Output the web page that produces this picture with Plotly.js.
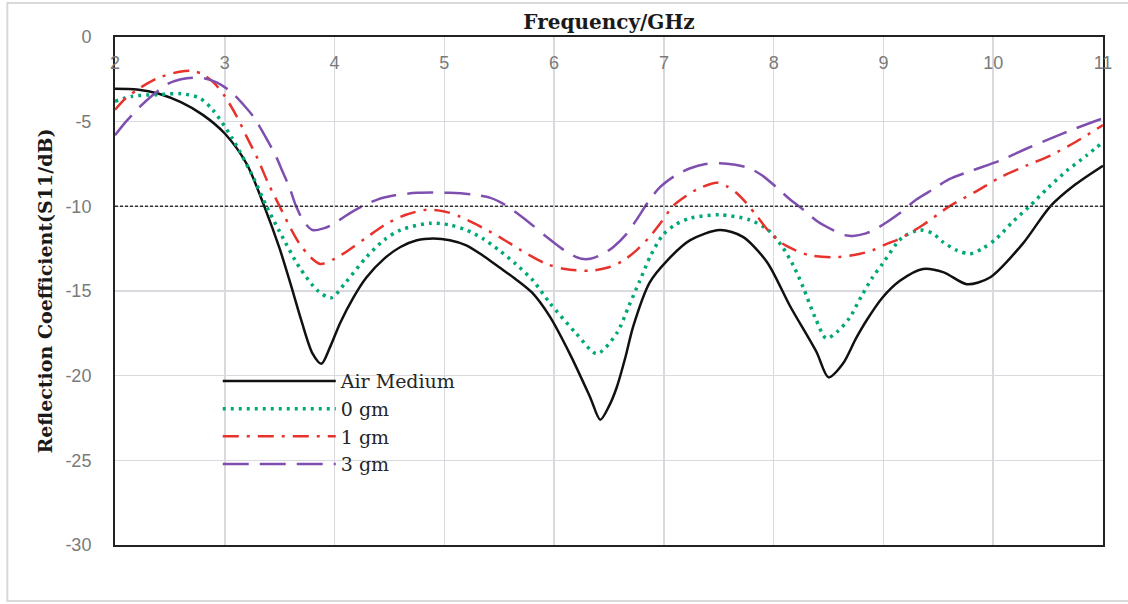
<!DOCTYPE html>
<html>
<head>
<meta charset="utf-8">
<script src="https://cdn.plot.ly/plotly-3.0.1.min.js"></script>
<style>html,body{margin:0;padding:0;background:#fff;}#chart{width:1128px;height:604px;}</style>
</head>
<body>
<div id="chart"></div>
<script>
// Series names
const seriesNames = ["Air Medium", "0 gm", "1 gm", "3 gm"];

// Air Medium
const airFreq = [2.0,2.2,2.4,2.6,2.8,3.0,3.2,3.36,3.5,3.6,3.7,3.8,3.88,3.96,4.05,4.17,4.29,4.45,4.6,4.75,4.9,5.05,5.2,5.35,5.5,5.65,5.8,5.96,6.15,6.33,6.42,6.5,6.57,6.65,6.72,6.87,7.03,7.24,7.51,7.72,7.94,8.15,8.39,8.5,8.63,8.75,8.85,8.99,9.15,9.36,9.55,9.76,9.97,10.27,10.52,10.75,11.0];
const airS11  = [-3.05,-3.1,-3.35,-3.85,-4.6,-5.7,-7.5,-10.0,-12.5,-14.6,-16.8,-18.7,-19.3,-18.3,-16.9,-15.4,-14.2,-13.1,-12.4,-12.0,-11.9,-12.0,-12.3,-12.9,-13.6,-14.3,-15.1,-16.5,-18.8,-21.3,-22.6,-21.8,-20.7,-18.9,-17.1,-14.5,-13.2,-12.0,-11.4,-11.8,-13.3,-15.9,-18.6,-20.1,-19.3,-17.8,-16.7,-15.4,-14.4,-13.7,-13.9,-14.6,-14.2,-12.2,-10.0,-8.7,-7.6];

// 0 gm
const g0Freq = [2.0,2.16,2.4,2.6,2.77,2.89,3.07,3.26,3.38,3.5,3.68,3.85,3.97,4.1,4.29,4.45,4.6,4.87,5.05,5.2,5.35,5.5,5.65,5.81,5.96,6.2,6.39,6.57,6.68,6.78,6.88,6.99,7.1,7.24,7.51,7.78,7.95,8.08,8.18,8.27,8.38,8.48,8.58,8.69,8.8,8.9,8.99,9.12,9.18,9.33,9.45,9.54,9.67,9.79,9.9,10.03,10.18,10.33,10.5,10.67,10.85,11.0];
const g0S11  = [-3.8,-3.5,-3.4,-3.35,-3.6,-4.3,-6.0,-8.3,-10.0,-11.5,-13.6,-15.0,-15.4,-14.5,-13.0,-12.0,-11.4,-11.0,-11.1,-11.4,-11.9,-12.6,-13.4,-14.4,-15.7,-17.5,-18.7,-17.5,-15.9,-14.4,-12.9,-11.7,-11.1,-10.7,-10.5,-10.8,-11.4,-12.4,-13.5,-14.8,-16.6,-17.8,-17.4,-16.6,-15.3,-14.2,-13.4,-12.2,-11.8,-11.4,-11.6,-12.1,-12.6,-12.8,-12.5,-11.9,-10.9,-10.0,-8.9,-7.9,-7.0,-6.2];

// 1 gm
const g1Freq = [2.0,2.1,2.23,2.4,2.59,2.7,2.8,2.9,3.0,3.11,3.2,3.3,3.4,3.5,3.6,3.68,3.78,3.87,4.0,4.17,4.3,4.48,4.65,4.84,5.0,5.14,5.3,5.5,5.7,5.93,6.1,6.33,6.5,6.63,6.75,6.87,6.98,7.08,7.2,7.3,7.48,7.57,7.66,7.75,7.85,7.96,8.08,8.2,8.33,8.58,8.79,8.9,9.0,9.15,9.36,9.6,9.85,10.06,10.3,10.52,10.75,11.0];
const g1S11  = [-4.3,-3.6,-3.0,-2.4,-2.05,-2.0,-2.2,-2.7,-3.5,-4.7,-5.9,-7.2,-8.7,-10.0,-11.3,-12.2,-13.0,-13.4,-13.1,-12.4,-11.8,-11.0,-10.5,-10.2,-10.3,-10.6,-11.1,-11.8,-12.6,-13.4,-13.7,-13.8,-13.6,-13.2,-12.6,-11.8,-10.9,-10.0,-9.4,-9.0,-8.6,-8.8,-9.2,-9.8,-10.6,-11.5,-12.2,-12.6,-12.9,-13.0,-12.8,-12.6,-12.3,-11.9,-11.1,-10.0,-9.1,-8.3,-7.6,-7.0,-6.2,-5.2];

// 3 gm
const g3Freq = [2.0,2.1,2.23,2.35,2.47,2.6,2.71,2.82,2.93,3.05,3.17,3.26,3.38,3.47,3.53,3.59,3.65,3.72,3.8,3.9,4.0,4.14,4.25,4.39,4.55,4.75,5.05,5.25,5.42,5.55,5.66,5.8,5.93,6.05,6.14,6.25,6.33,6.45,6.54,6.65,6.75,6.85,6.96,7.1,7.24,7.38,7.51,7.65,7.78,7.9,8.03,8.15,8.27,8.4,8.54,8.65,8.72,8.84,8.94,9.04,9.15,9.3,9.45,9.6,9.8,10.06,10.3,10.52,10.75,11.0];
const g3S11  = [-5.8,-5.0,-4.1,-3.4,-2.8,-2.5,-2.4,-2.45,-2.7,-3.2,-4.0,-4.7,-6.0,-7.1,-8.0,-8.9,-10.0,-10.9,-11.4,-11.3,-11.0,-10.4,-10.0,-9.6,-9.35,-9.2,-9.2,-9.3,-9.5,-9.9,-10.4,-11.1,-11.8,-12.4,-12.8,-13.1,-13.1,-12.8,-12.4,-11.7,-10.8,-9.8,-8.9,-8.2,-7.75,-7.5,-7.45,-7.55,-7.75,-8.2,-8.9,-9.6,-10.2,-10.9,-11.4,-11.7,-11.75,-11.6,-11.3,-10.9,-10.4,-9.6,-9.0,-8.4,-7.9,-7.3,-6.6,-6.0,-5.4,-4.8];

// Reference level and axis ticks
const thresholdDb = -10;
const xTicks = [2,3,4,5,6,7,8,9,10,11];
const yTicks = [0,-5,-10,-15,-20,-25,-30];

const traces = [
  {x: airFreq, y: airS11, name: seriesNames[0], mode: "lines",
   line: {color: "#111111", width: 2.5, shape: "spline", smoothing: 0.8}},
  {x: g0Freq, y: g0S11, name: seriesNames[1], mode: "lines",
   line: {color: "#00A878", width: 3.5, dash: "3px,5px", shape: "spline", smoothing: 0.8}},
  {x: g1Freq, y: g1S11, name: seriesNames[2], mode: "lines",
   line: {color: "#E8322C", width: 2.5, dash: "16px,8px,3px,8px", shape: "spline", smoothing: 0.8}},
  {x: g3Freq, y: g3S11, name: seriesNames[3], mode: "lines",
   line: {color: "#7F4FB0", width: 2.5, dash: "26px,11px", shape: "spline", smoothing: 0.8}}
];

const tickFont = {family: "Liberation Sans, Arial, sans-serif", size: 18, color: "#7a7a7a"};
const xTitleFont = {family: "DejaVu Serif, serif", size: 20, color: "#1a1a1a", weight: "bold"};
const yTitleFont = {family: "DejaVu Serif, serif", size: 19, color: "#1a1a1a", weight: "bold"};

const layout = {
  width: 1128, height: 604,
  margin: {l: 115, r: 25, t: 37, b: 59},
  paper_bgcolor: "#ffffff", plot_bgcolor: "#ffffff",
  showlegend: true,
  xaxis: {
    range: [2, 11], side: "top", tickmode: "array", tickvals: xTicks, ticktext: xTicks.map(String),
    ticks: "", ticklabelstandoff: -41, tickfont: tickFont,
    showgrid: true, gridcolor: "#d9d9df", gridwidth: 1.5, zeroline: false,
    showline: true, mirror: true, linecolor: "#222222", linewidth: 2,
    title: {text: "<b>Frequency/GHz</b>", font: xTitleFont, standoff: 18},
    automargin: false
  },
  yaxis: {
    range: [-30, 0], tickmode: "array", tickvals: yTicks, ticktext: yTicks.map(String),
    ticks: "", ticklabelstandoff: 18, tickfont: tickFont,
    showgrid: true, gridcolor: "#d9d9df", gridwidth: 1.5, zeroline: false,
    showline: true, mirror: true, linecolor: "#222222", linewidth: 2,
    title: {text: "<b>Reflection Coefficient(S11/dB)</b>", font: yTitleFont, standoff: 8},
    automargin: false
  },
  legend: {
    x: 0.104, y: 0.360, xanchor: "left", yanchor: "top",
    bgcolor: "rgba(0,0,0,0)", borderwidth: 0, itemwidth: 113,
    font: {family: "DejaVu Serif, serif", size: 19, color: "#262626"},
    tracegroupgap: 0
  },
  shapes: [
    {type: "line", xref: "x", yref: "y", x0: 2, x1: 11, y0: thresholdDb, y1: thresholdDb,
     line: {color: "#333333", width: 1.5, dash: "3px,2px"}, layer: "above"},
    {type: "rect", xref: "paper", yref: "paper", x0: -0.109, x1: 1.03, y0: -0.110, y1: 1.067,
     line: {color: "#d9d9d9", width: 2}, fillcolor: "rgba(0,0,0,0)", layer: "below"}
  ]
};

Plotly.newPlot("chart", traces, layout, {displayModeBar: false, staticPlot: true});
</script>
</body>
</html>
